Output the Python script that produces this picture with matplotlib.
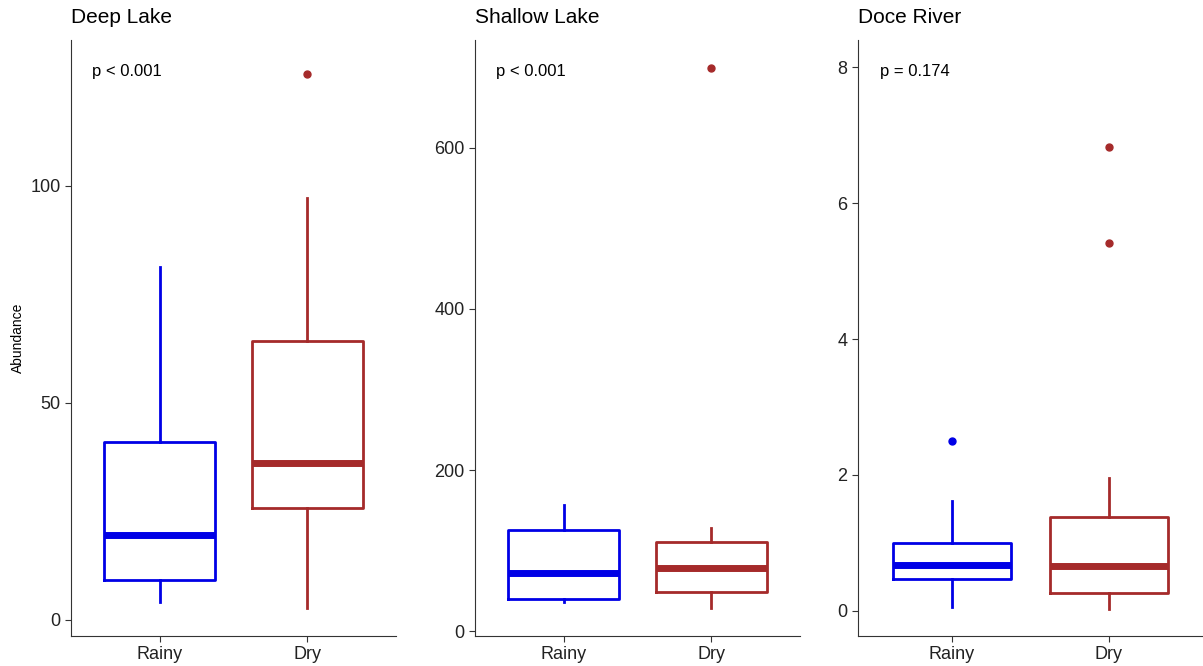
import matplotlib.pyplot as plt

plt.rcParams['font.family'] = ['Liberation Sans', 'DejaVu Sans']

# Data (box stats per site and season)
sites = ["Deep Lake", "Shallow Lake", "Doce River"]
seasons = ["Rainy", "Dry"]
p_labels = ["p < 0.001", "p < 0.001", "p = 0.174"]

# [whisker low, Q1, median, Q3, whisker high]
deep_rainy = [4.1, 9.2, 19.6, 41.0, 81.3]
deep_dry = [2.8, 25.8, 36.2, 64.3, 97.2]
shallow_rainy = [36, 40, 72, 125.5, 156.5]
shallow_dry = [28.6, 48.4, 78, 110.5, 128]
doce_rainy = [0.06, 0.47, 0.68, 1.0, 1.62]
doce_dry = [0.03, 0.26, 0.66, 1.38, 1.96]

deep_out = [[], [125.8]]
shallow_out = [[], [699]]
doce_out = [[2.5], [6.82, 5.41]]

stats_all = [[deep_rainy, deep_dry], [shallow_rainy, shallow_dry], [doce_rainy, doce_dry]]
outliers_all = [deep_out, shallow_out, doce_out]
yticks_all = [[0, 50, 100], [0, 200, 400, 600], [0, 2, 4, 6, 8]]
ylims = [(-3.7, 133.6), (-6, 734), (-0.37, 8.4)]

colors = ["#0000E6", "#A52A2A"]

fig = plt.figure(figsize=(12.03, 6.66), dpi=100)
rects = [[0.059, 0.045, 0.270, 0.895],
         [0.395, 0.045, 0.270, 0.895],
         [0.713, 0.045, 0.287, 0.895]]

for i, site in enumerate(sites):
    ax = fig.add_axes(rects[i])
    bxp_stats = []
    for j, s in enumerate(stats_all[i]):
        bxp_stats.append(dict(whislo=s[0], q1=s[1], med=s[2], q3=s[3], whishi=s[4],
                              fliers=outliers_all[i][j], label=seasons[j]))
    for j, st in enumerate(bxp_stats):
        c = colors[j]
        ax.bxp([st], positions=[j + 1], widths=0.75, showcaps=False,
               boxprops=dict(color=c, linewidth=2),
               whiskerprops=dict(color=c, linewidth=2),
               medianprops=dict(color=c, linewidth=5, solid_capstyle='butt'),
               flierprops=dict(marker='o', markerfacecolor=c, markeredgecolor=c, markersize=5))
    ax.set_xlim(0.4, 2.6)
    ax.set_ylim(*ylims[i])
    ax.set_xticks([1, 2])
    ax.set_xticklabels(seasons)
    ax.set_yticks(yticks_all[i])
    ax.tick_params(labelsize=13, colors='#333333', labelcolor='#222222', length=4)
    for side in ['top', 'right']:
        ax.spines[side].set_visible(False)
    for side in ['left', 'bottom']:
        ax.spines[side].set_color('#333333')
    ax.set_title(site, loc='left', fontsize=15, pad=12)
    ax.text(0.065, 0.947, p_labels[i], transform=ax.transAxes, fontsize=12, va='center')
    if i == 0:
        ax.set_ylabel("Abundance", fontsize=10)

fig.savefig("out.png", dpi=100)
